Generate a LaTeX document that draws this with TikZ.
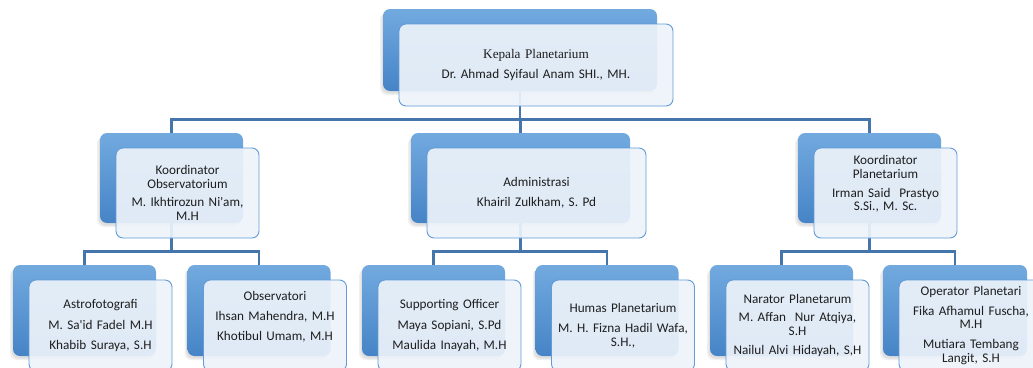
\documentclass[tikz,border=0pt]{standalone}
\usepackage{fontspec}
\setmainfont{Carlito}
\newfontfamily\timesfont{Liberation Serif}
\usepackage{tikz}
\usetikzlibrary{shapes,arrows,positioning,calc,shadows,backgrounds}
\definecolor{boxTop}{RGB}{114,170,223}
\definecolor{boxBottom}{RGB}{70,132,199}
\definecolor{paleBlue}{RGB}{237,243,250}
\definecolor{edgeBlue}{RGB}{98,155,214}
\definecolor{lineBlue}{RGB}{68,118,172}
\definecolor{darkText}{RGB}{30,30,30}
\frenchspacing

\begin{document}
\begin{tikzpicture}[x=1pt,y=-1pt,
    backbox/.style={rounded corners=7pt,top color=boxTop,bottom color=boxBottom,
        minimum width=143pt,minimum height=90pt,inner sep=0pt,
        drop shadow={shadow xshift=-3pt,shadow yshift=-4pt,opacity=.12},
        drop shadow={shadow xshift=-1.5pt,shadow yshift=-2.5pt,opacity=.15}},
    frontbox/.style={rounded corners=7pt,fill=paleBlue,fill opacity=.92,text opacity=1,
        draw=edgeBlue,line width=.9pt,minimum width=143pt,minimum height=90pt,
        inner sep=2pt,text width=135pt,align=center,text=darkText,
        font=\fontsize{13.2}{13.6}\selectfont},
    conn/.style={draw=lineBlue,line width=2.8pt}]
        \clip (0,0) rectangle (1033,367);

        \node[backbox,minimum width=274pt,minimum height=82pt] (kepala) at (520,50) {};
        \node[frontbox,minimum width=274pt,minimum height=82pt,text width=265pt] (kepala-f)
            at ([shift={(16,15)}]kepala.center) {
            {\timesfont Kepala Planetarium}\\[6.5pt]
            Dr. Ahmad Syifaul Anam SHI., MH.
        };

        \node[backbox] (koorObs) at (171.5,178) {};
        \node[frontbox] (koorObs-f) at ([shift={(16,15)}]koorObs.center) {
            Koordinator\\Observatorium\\[5pt]
            M. Ikhtirozun Ni\textquotesingle am,\\M.H
        };

        \node[backbox,minimum width=219pt] (admin) at (520.5,178) {};
        \node[frontbox,minimum width=219pt,text width=210pt] (admin-f)
            at ([shift={(16,15)}]admin.center) {
            Administrasi\\[6.5pt]
            Khairil Zulkham, S. Pd
        };

        \node[backbox] (koorPlan) at (869.5,178) {};
        \node[frontbox] (koorPlan-f) at ([shift={(16,15)}]koorPlan.center) {
            Koordinator\\Planetarium\\[5pt]
            Irman Said\ \ Prastyo\\S.Si., M. Sc.\\[6pt]\mbox{}
        };

        \node[backbox,minimum height=91pt] (astro) at (84.5,310.5) {};
        \node[frontbox,minimum height=91pt] (astro-f) at ([shift={(16,15)}]astro.center) {
            Astrofotografi\\[6.5pt]
            M. Sa\textquotesingle id Fadel M.H\\[6.5pt]
            Khabib Suraya, S.H
        };

        \node[backbox,minimum height=91pt] (observ) at (259,310.5) {};
        \node[frontbox,minimum height=91pt] (observ-f) at ([shift={(16,15)}]observ.center) {
            Observatori\\[6.5pt]
            Ihsan Mahendra, M.H\\[6.5pt]
            Khotibul Umam, M.H\\[6pt]\mbox{}
        };

        \node[backbox,minimum height=91pt] (support) at (433.5,310.5) {};
        \node[frontbox,minimum height=91pt] (support-f) at ([shift={(16,15)}]support.center) {
            Supporting Officer\\[6.5pt]
            Maya Sopiani, S.Pd\\[6.5pt]
            Maulida Inayah, M.H
        };

        \node[backbox,minimum height=91pt] (humas) at (607,310.5) {};
        \node[frontbox,minimum height=91pt] (humas-f) at ([shift={(16,15)}]humas.center) {
            Humas Planetarium\\[6.5pt]
            M. H. Fizna Hadil Wafa,\\S.H.,
        };

        \node[backbox,minimum height=91pt] (narator) at (781.5,310.5) {};
        \node[frontbox,minimum height=91pt] (narator-f) at ([shift={(16,15)}]narator.center) {
            Narator Planetarum\\[5pt]
            M. Affan\ \ Nur Atqiya,\\S.H\\[6pt]
            Nailul Alvi Hidayah, S,H
        };

        \node[backbox,minimum width=144pt,minimum height=91pt] (operator) at (955,310.5) {};
        \node[frontbox,minimum width=144pt,minimum height=91pt] (operator-f)
            at ([shift={(16,15)}]operator.center) {
            Operator Planetari\\[6pt]
            Fika Afhamul Fuscha,\\M.H\\[6pt]
            Mutiara Tembang\\Langit, S.H
        };

        \coordinate (busTop) at ($(kepala-f.south)!.5!(admin.north)$);
        \coordinate (busLow) at ($(koorObs-f.south)!.5!(astro.north)$);

        \begin{scope}[on background layer]
            \foreach \kid in {koorObs,admin,koorPlan}
                \draw[conn] (kepala.center) -- (kepala.center |- busTop) -| (\kid.north);
            \foreach \boss/\kid in {koorObs/astro,koorObs/observ,admin/support,
                                    admin/humas,koorPlan/narator,koorPlan/operator}
                \draw[conn] (\boss.center) -- (\boss.center |- busLow) -| (\kid.north);
        \end{scope}
    \end{tikzpicture}
\end{document}
